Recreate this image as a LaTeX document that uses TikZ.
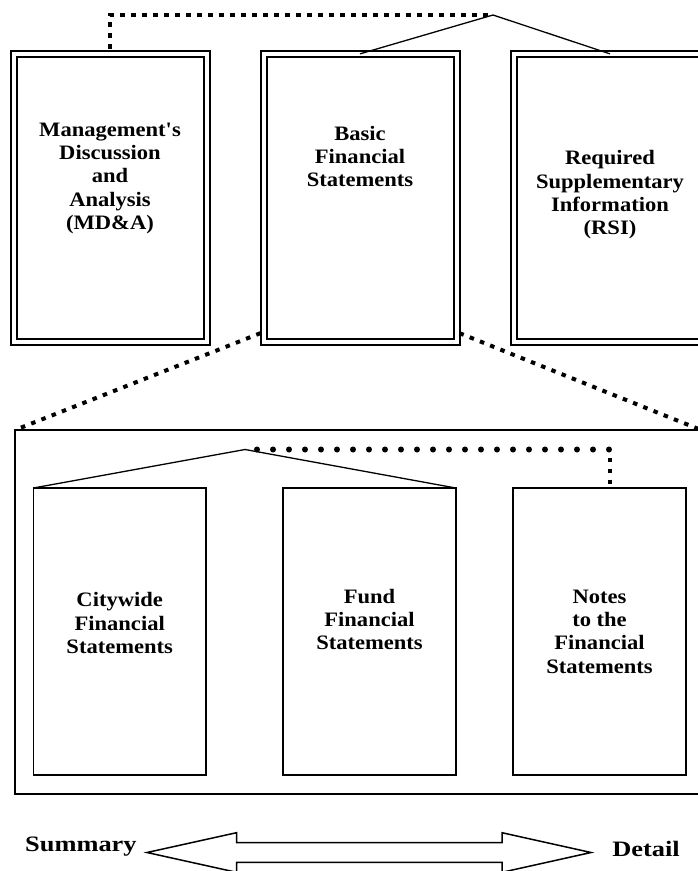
\documentclass[tikz,border=0pt]{standalone}
\usepackage{fontspec}
\setmainfont{Liberation Serif}
\newfontfamily\boxfamily{Liberation Serif}[FakeStretch=1.1]
\newfontfamily\lblfamily{Liberation Serif}[FakeStretch=1.2]
\usetikzlibrary{calc}
\begin{document}
\begin{tikzpicture}[x=1pt,y=-1pt,
  topbox/.style={draw, double, double distance=4pt, line width=2pt, minimum width=193pt, minimum height=288.3pt, inner sep=0pt, outer sep=0pt},
  subbox/.style={draw, line width=1.5pt, minimum width=172.6pt, minimum height=287pt, inner sep=0pt, outer sep=0pt},
  framebox/.style={draw, line width=2pt, minimum width=686pt, minimum height=364pt, inner sep=0pt, outer sep=0pt},
  boxtext/.style={align=center, inner sep=0pt, font=\boxfamily\bfseries\fontsize{20.5}{23.3}\selectfont},
  endlabel/.style={inner sep=0pt, font=\lblfamily\bfseries\fontsize{22}{26}\selectfont},
  thinline/.style={line width=1.3pt},
  sqdots/.style={line width=4pt, dash pattern=on 4.5pt off 6.5pt},
  rounddots/.style={line width=6pt, line cap=round, dash pattern=on 0pt off 16pt, dash phase=4pt},
  bigarrow/.style={line width=1.5pt, line join=miter}
]
\useasboundingbox (0,0) rectangle (698,871);

% top row
\node[topbox] (b1) at (110,198) {};
\node[topbox] (b2) at (360,198) {};
\node[topbox] (b3) at (610,198) {};
\node[boxtext] (t1) at (110,178.4) {Management's\\Discussion\\and\\Analysis\\(MD\&A)};
\node[boxtext] (t2) at (360,156.5) {Basic\\Financial\\Statements};
\node[boxtext] (t3) at (610,195) {Required\\Supplementary\\Information\\(RSI)};

\coordinate (topapex) at (493,15);
\draw[thinline] (b2.north) -- (topapex) -- (b3.north);
\draw[sqdots, shorten <=5pt, shorten >=5pt] (b1.north) |- (topapex);

% frame
\node[framebox] (frame) at (358,612) {};
\draw[sqdots] ($(b2.south west)+(-3,-9)$) -- (frame.north west);
\draw[sqdots] ($(b2.south east)+(3,-9)$) -- (frame.north east);

% lower row
\node[subbox] (cA) at (119.7,631.5) {};
\node[subbox] (cB) at (369.5,631.5) {};
\node[subbox] (cC) at (599.5,631.5) {};
\node[boxtext] (u1) at (119.7,623) {Citywide\\Financial\\Statements};
\node[boxtext] (u2) at (369.5,619.5) {Fund\\Financial\\Statements};
\node[boxtext] (u3) at (599.5,631.5) {Notes\\to the\\Financial\\Statements};

\coordinate (apex2) at (245,449.5);
\coordinate (dotcorner) at (610,449.5);
\draw[thinline] (cA.north west) -- (apex2) -- (cB.north east);
\draw[rounddots] (apex2) -- (dotcorner);
\draw[sqdots, shorten <=8pt] (dotcorner) -- (dotcorner |- cC.north);

% bottom arrow
\node[endlabel, anchor=base west] (sum) at (25,851) {Summary};
\node[endlabel, anchor=base east] (det) at (680,856) {Detail};
\coordinate (ltip) at (147,852.5);
\coordinate (rtip) at (591,852.5);
\draw[bigarrow] (ltip) -- (236.5,832.7) -- (236.5,842.7) -- (502,842.7) -- (502,832.7)
  -- (rtip) -- (502,872.3) -- (502,862.3) -- (236.5,862.3) -- (236.5,872.3) -- cycle;
\end{tikzpicture}
\end{document}
